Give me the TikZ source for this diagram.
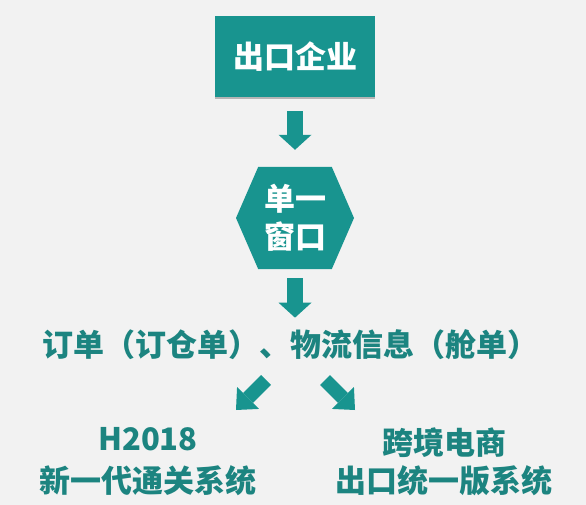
\documentclass[tikz,border=0pt]{standalone}
\usepackage{fontspec}
\newfontfamily\cjk{Noto Sans CJK SC Black}
\usetikzlibrary{arrows.meta, shapes.symbols, shadows}
\definecolor{tealfill}{RGB}{24,148,143}
\definecolor{tealtext}{RGB}{28,132,128}
\definecolor{bggray}{RGB}{242,242,242}
\tikzset{
  stagebox/.style={fill=tealfill, text=white, inner sep=0pt, align=center,
    font=\cjk\fontsize{31}{38}\selectfont},
  tagtext/.style={text=tealtext, inner sep=0pt, align=center,
    font=\cjk\fontsize{31}{38}\selectfont},
  downarrow/.style={draw=tealfill, line width=16pt,
    -{Triangle[width=33pt,length=15pt,line width=0pt]}},
  slantarrow/.style={draw=tealfill, line width=14pt,
    -{Triangle[width=31pt,length=17pt,line width=0pt]}}
}

\begin{document}
\begin{tikzpicture}[x=1pt,y=-1pt]
\fill[bggray] (0,0) rectangle (586,505);
\useasboundingbox (0,0) rectangle (586,505);
% firm and single window
\node[stagebox, minimum width=160pt, minimum height=81pt,
  drop shadow={shadow xshift=0pt, shadow yshift=-2pt, fill=black, opacity=0.25}]
  (firm) at (295,56.5) {出口企业};
\node[stagebox, signal, signal to=west and east, signal pointer angle=133,
  minimum width=118pt, minimum height=102pt] (win) at (295,218) {单一\\窗口};
% data and target systems
\node[tagtext] (flow) at (290,345) {订单（订仓单）、物流信息（舱单）};
\node[tagtext] (h2018) at (148,462) {H2018\\[4pt]新一代通关系统};
\node[tagtext] (cbec) at (444,462) {跨境电商\\出口统一版系统};
% arrows
\coordinate (ltail) at (266,380);
\coordinate (ltip) at (236,410);
\coordinate (rtail) at (325,380);
\coordinate (rtip) at (355,410);
\draw[downarrow, shorten <=14pt, shorten >=17pt] (firm.south) -- (win.north);
\draw[downarrow, shorten <=9pt, shorten >=12pt] (win.south) -- (win.south |- flow.north);
\draw[slantarrow] (ltail) -- (ltip);
\draw[slantarrow] (rtail) -- (rtip);
\end{tikzpicture}
\end{document}
